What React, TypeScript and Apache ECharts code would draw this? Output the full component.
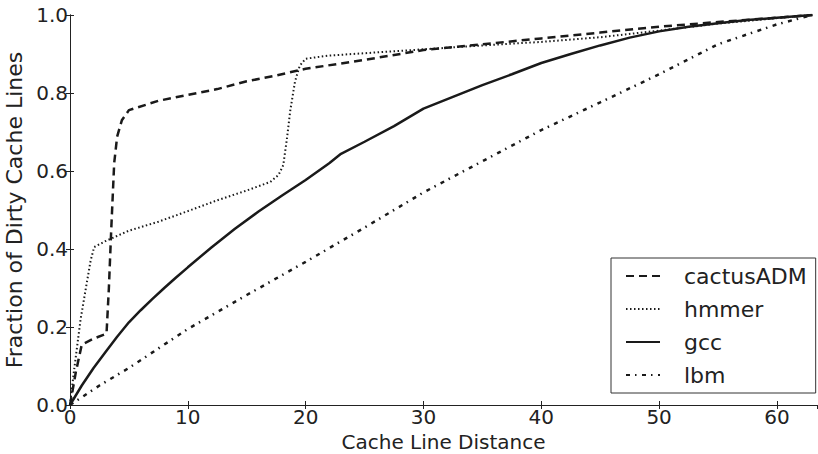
import React, { useEffect, useRef } from "react";
import * as echarts from "echarts";

const seriesNames = ["cactusADM", "hmmer", "gcc", "lbm"];

const cactusX = [0, 0.5, 1, 2, 3.1, 3.3, 3.5, 3.75, 4, 4.4, 5, 7.5, 10, 12.5, 15, 17.5, 20, 25, 30, 35, 40, 45, 50, 55, 60, 63];
const cactusY = [0, 0.085, 0.155, 0.17, 0.183, 0.3, 0.45, 0.62, 0.688, 0.73, 0.756, 0.78, 0.795, 0.81, 0.83, 0.845, 0.862, 0.885, 0.91, 0.925, 0.94, 0.955, 0.97, 0.982, 0.993, 1.0];

const hmmerX = [0, 0.35, 0.9, 1.35, 1.75, 2.05, 3, 5, 7.5, 10, 12.5, 15, 17, 17.7, 18.1, 18.4, 18.7, 19.1, 19.5, 20, 22, 25, 30, 35, 40, 45, 50, 55, 60, 63];
const hmmerY = [0, 0.09, 0.22, 0.3, 0.37, 0.405, 0.42, 0.447, 0.47, 0.497, 0.525, 0.55, 0.572, 0.59, 0.615, 0.68, 0.756, 0.83, 0.87, 0.888, 0.896, 0.902, 0.912, 0.922, 0.931, 0.943, 0.96, 0.978, 0.992, 1.0];

const gccX = [0, 1, 2, 3, 4, 5, 6, 7, 8, 9, 10, 12, 14, 16, 18, 20, 22, 23, 25, 27.5, 30, 32.5, 35, 37.5, 40, 42.5, 45, 47.5, 50, 52.5, 55, 57.5, 60, 63];
const gccY = [0, 0.05, 0.095, 0.135, 0.175, 0.212, 0.243, 0.272, 0.3, 0.327, 0.353, 0.404, 0.452, 0.496, 0.537, 0.577, 0.62, 0.644, 0.675, 0.715, 0.76, 0.79, 0.82, 0.848, 0.877, 0.9, 0.922, 0.942, 0.958, 0.97, 0.979, 0.987, 0.993, 1.0];

const lbmX = [0, 2.5, 5, 10, 15, 20, 25, 30, 35, 40, 45, 50, 55, 60, 63];
const lbmY = [0, 0.05, 0.095, 0.195, 0.282, 0.367, 0.455, 0.545, 0.625, 0.705, 0.776, 0.848, 0.925, 0.976, 1.0];

const xTicks = [0, 10, 20, 30, 40, 50, 60];
const yTicks = [0.0, 0.2, 0.4, 0.6, 0.8, 1.0];

const zip = (xs: number[], ys: number[]) => xs.map((x, i) => [x, ys[i]]);

const FONT = "DejaVu Sans";
const INK = "#222";

export default function App() {
  const ref = useRef<HTMLDivElement>(null);

  useEffect(() => {
    if (!ref.current) return;
    const chart = echarts.init(ref.current, undefined, { renderer: "svg" });

    const styles = [
      { width: 2.5, type: [8, 5] },
      { width: 2, type: [1.5, 2.5] },
      { width: 2.5, type: "solid" },
      { width: 2.5, type: [4, 5, 1.5, 5.5] },
    ];
    const datas = [zip(cactusX, cactusY), zip(hmmerX, hmmerY), zip(gccX, gccY), zip(lbmX, lbmY)];

    const axisCommon = {
      axisLine: { show: true, lineStyle: { color: INK, width: 1 } },
      axisTick: { show: true, inside: true, length: 4, lineStyle: { color: INK, width: 1 } },
      splitLine: { show: false },
    };

    chart.setOption({
      animation: false,
      backgroundColor: "#fff",
      textStyle: { fontFamily: FONT, color: INK },
      grid: { left: 70, right: 1, top: 15, bottom: 49, containLabel: false, outerBoundsMode: "none" },
      legend: {
        orient: "vertical",
        left: 611,
        top: 258,
        padding: [7, 9, 7, 14],
        itemWidth: 34,
        itemHeight: 14,
        itemGap: 11,
        borderColor: "#333",
        borderWidth: 1,
        backgroundColor: "#fff",
        itemStyle: { opacity: 0 },
        textStyle: { fontSize: 22, color: INK, fontFamily: FONT, padding: [0, 0, 0, 19] },
        data: seriesNames,
      },
      xAxis: [
        {
          type: "value",
          position: "bottom",
          min: 0,
          max: 63.4,
          interval: 10,
          ...axisCommon,
          axisLabel: {
            fontSize: 20,
            color: INK,
            fontFamily: FONT,
            margin: 2,
            showMaxLabel: false,
            hideOverlap: false,
            formatter: (v: number) => (xTicks.includes(v) ? String(v) : ""),
          },
          name: "Cache Line Distance",
          nameLocation: "middle",
          nameGap: 18,
          nameTextStyle: { fontSize: 20, color: INK, fontFamily: FONT },
        },
        {
          type: "value",
          position: "top",
          min: 0,
          max: 63.4,
          interval: 10,
          ...axisCommon,
          axisLabel: { show: false },
        },
      ],
      yAxis: [
        {
          type: "value",
          position: "left",
          min: 0,
          max: 1,
          interval: 0.2,
          ...axisCommon,
          axisLabel: {
            fontSize: 20,
            color: INK,
            fontFamily: FONT,
            margin: 2,
            hideOverlap: false,
            formatter: (v: number) => {
              const t = yTicks.find((y) => Math.abs(y - v) < 1e-6);
              return t === undefined ? "" : t.toFixed(1);
            },
          },
          name: "Fraction of Dirty Cache Lines",
          nameLocation: "middle",
          nameGap: 42,
          nameTextStyle: { fontSize: 22, color: INK, fontFamily: FONT },
        },
        {
          type: "value",
          position: "right",
          min: 0,
          max: 1,
          interval: 0.2,
          ...axisCommon,
          axisLabel: { show: false },
        },
      ],
      series: seriesNames.map((name, i) => ({
        name,
        type: "line",
        xAxisIndex: 0,
        yAxisIndex: 0,
        symbol: "none",
        showSymbol: false,
        color: "#1a1a1a",
        lineStyle: { color: "#1a1a1a", width: styles[i].width, type: styles[i].type, cap: "butt" },
        data: datas[i],
      })),
    });

    return () => chart.dispose();
  }, []);

  return (
    <div
      ref={ref}
      style={{ position: "fixed", left: 0, top: 0, width: 818, height: 454, background: "#fff" }}
    />
  );
}
